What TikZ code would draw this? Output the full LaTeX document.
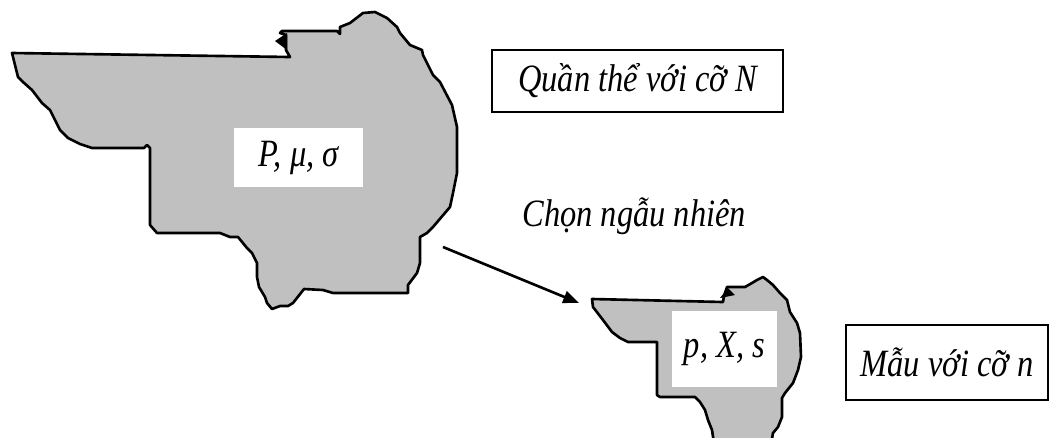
\documentclass[tikz,border=0pt]{standalone}
\usepackage{fontspec}
\setmainfont{Liberation Serif}
\newfontfamily\viefont[FakeStretch=0.84]{Liberation Serif}
\usetikzlibrary{arrows.meta}
\definecolor{blobgray}{RGB}{192,192,192}
\tikzset{
  blob/.style={draw, line width=1.5pt, fill=blobgray, line join=round},
  lbl/.style={font=\viefont\itshape\fontsize{22}{26}\selectfont, inner sep=0pt},
  whitebox/.style={lbl, fill=white},
  framebox/.style={lbl, draw, line width=1.5pt}
}
\begin{document}
\begin{tikzpicture}[x=0.02cm,y=-0.02cm]
\useasboundingbox (0,0) rectangle (1052,437);
\draw[blob] (12,53) -- (290,57) -- (286,50) -- (286,35) -- (280,33) -- (282,31) -- (337,31) -- (340,34) -- (340,27) -- (350,23) -- (363,13) -- (375,12) -- (387,18) -- (397,27) -- (400,33) -- (410,45) -- (422,50) -- (423,55) -- (433,75) -- (440,82) -- (452,105) -- (457,127) -- (457,173) -- (453,193) -- (450,207) -- (433,227) -- (427,233) -- (420,237) -- (420,263) -- (417,273) -- (408,285) -- (408,293) -- (333,293) -- (323,290) -- (304,289) -- (293,303) -- (288,306) -- (280,306) -- (272,309) -- (267,303) -- (265,297) -- (259,287) -- (257,277) -- (257,263) -- (252,253) -- (247,248) -- (238,237) -- (230,237) -- (220,233) -- (157,233) -- (150,225) -- (150,148) -- (147,145) -- (144,148) -- (92,148) -- (80,144) -- (68,138) -- (60,130) -- (50,110) -- (42,103) -- (32,90) -- (23,82) -- (18,77) -- cycle;
\fill (275,41) -- (287,33) -- (287,50) -- cycle;
\draw[blob] (592,299) -- (723,302) -- (724,296) -- (727,287) -- (745,287) -- (752,283) -- (757,280) -- (763,277) -- (767,280) -- (773,285) -- (780,293) -- (787,300) -- (790,312) -- (797,323) -- (800,333) -- (801,357) -- (798,370) -- (793,383) -- (785,393) -- (782,398) -- (782,417) -- (778,427) -- (773,433) -- (770,450) -- (715,450) -- (712,430) -- (708,420) -- (705,410) -- (700,402) -- (695,397) -- (660,397) -- (657,395) -- (657,342) -- (628,342) -- (620,338) -- (612,332) -- (603,320) -- (593,307) -- cycle;
\fill (720,298) -- (728,288) -- (735,295) -- cycle;
\node[whitebox, minimum width=2.58cm, minimum height=1.18cm] (popparam) at (298.5,157.5) {P, μ, σ};
\node[whitebox, minimum width=2.1cm, minimum height=1.52cm] (smpparam) at (724.5,349) {p, X, s};
\node[framebox, minimum width=5.82cm, minimum height=1.24cm] (popsize) at (637.5,81) {Quần thể với cỡ N};
\node[framebox, minimum width=4.04cm, minimum height=1.5cm] (smpsize) at (947,362.5) {Mẫu với cỡ n};
\node[lbl, anchor=base west] (choose) at (522,226) {Chọn ngẫu nhiên};
\coordinate (popedge) at (443,247);
\coordinate (smpedge) at (579,303);
\draw[line width=1.5pt, -{Triangle[length=9pt,width=7pt]}] (popedge) -- (smpedge);
\end{tikzpicture}
\end{document}
